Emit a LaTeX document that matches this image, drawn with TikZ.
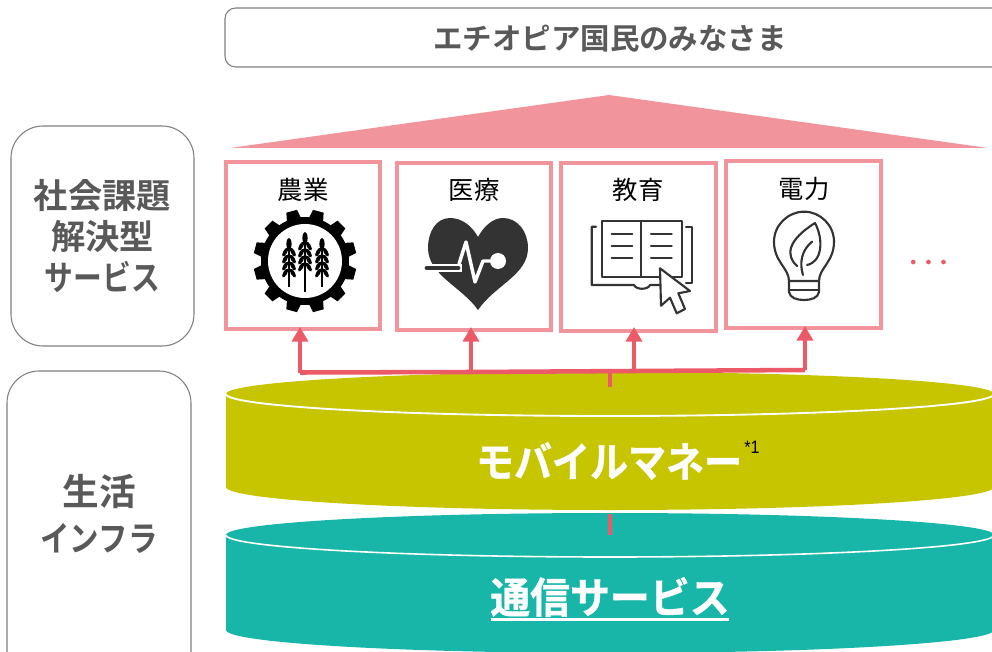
\documentclass[tikz,border=0pt]{standalone}
\usepackage{fontspec}
\setmainfont{Noto Sans CJK JP}
\newfontfamily\jpb{Noto Sans CJK JP Bold}
\newfontfamily\jpbb[FakeBold=1]{Noto Sans CJK JP Bold}
\newfontfamily\jpr{Noto Sans CJK JP}
\newfontfamily\lat{Liberation Sans}
\newfontfamily\djv{DejaVu Sans}
\definecolor{pinkb}{HTML}{F1949C}
\definecolor{arrowc}{HTML}{EC5A68}
\definecolor{olive}{HTML}{C7C400}
\definecolor{tealc}{HTML}{17B6A8}
\definecolor{graytx}{HTML}{595959}
\definecolor{grayln}{HTML}{7F7F7F}
\definecolor{icon}{HTML}{333333}
\newcommand\hs[2]{\scalebox{#1}[1]{#2}}
\newcommand\wheat[3]{%
  \draw[black,line width=1.1pt] (#1,#2+6) -- (#1,#3);
  \fill[black] (#1,#2+6) ellipse [x radius=2.6,y radius=6];
  \foreach \k in {0,1,2,3} {
    \fill[black,rotate around={-30:(#1-3.8,#2+14+\k*7)}] (#1-3.8,#2+14+\k*7) ellipse [x radius=2,y radius=5];
    \fill[black,rotate around={30:(#1+3.8,#2+14+\k*7)}] (#1+3.8,#2+14+\k*7) ellipse [x radius=2,y radius=5];
  }}
\tikzset{
  svcbox/.style={draw=pinkb,line width=3pt,fill=white,outer sep=0pt,inner sep=0pt,anchor=north west},
  sidebox/.style={draw=grayln,line width=0.8pt,fill=white,rounded corners=24pt},
  sidetxt/.style={text=graytx,font=\jpb\fontsize{25.7}{31}\selectfont,align=center},
  svctxt/.style={text=black,font=\jpr\fontsize{19}{22}\selectfont},
  bigtxt/.style={text=white,font=\jpb\selectfont},
  conn/.style={draw=arrowc,line width=3.4pt},
  up/.style={conn,-{Triangle[length=11pt,width=12pt]}},
  stem/.style={draw=arrowc,line width=3pt},
  iconln/.style={draw=icon,line width=1.6pt,line cap=round,line join=round},
}
\usetikzlibrary{arrows.meta}
\begin{document}
\begin{tikzpicture}[x=0.75pt,y=-0.75pt]
\useasboundingbox (0,0) rectangle (992,652);
\clip (0,0) rectangle (992,652);
% top banner
\draw[draw=grayln,line width=0.8pt,fill=white,rounded corners=8pt] (225,8) rectangle (1010,67);
\node[text=graytx,font=\jpb\fontsize{22.1}{26}\selectfont] (people) at (610,38.5) {エチオピア国民のみなさま};
% roof
\fill[pinkb] (230,148) -- (609,95) -- (988,148) -- cycle;
% side boxes
\draw[sidebox] (11,126) rectangle (194,346);
\draw[sidebox] (7,371) rectangle (191,690);
\node[sidetxt] (social) at (102.5,236) {社会課題\\解決型\\\hs{0.84}{サービス}};
\node[sidetxt,font=\jpb\fontsize{27.5}{34}\selectfont] (life) at (99,514) {生活\\\hs{0.85}{\fontsize{26}{34}\selectfont インフラ}};
% olive cylinder
\fill[olive] (226,394) -- (226,487) arc [start angle=180,end angle=0,x radius=384,y radius=23] -- (994,394) arc [start angle=0,end angle=-180,x radius=384,y radius=22] -- cycle;
\draw[white,line width=1.4pt] (226,394) arc [start angle=180,end angle=0,x radius=384,y radius=22];
% teal cylinder
\fill[tealc] (226,535) -- (226,630) arc [start angle=180,end angle=0,x radius=384,y radius=23] -- (994,535) arc [start angle=0,end angle=-180,x radius=384,y radius=22] -- cycle;
\draw[white,line width=1.2pt] (226,535) arc [start angle=180,end angle=0,x radius=384,y radius=22];
\node[bigtxt,font=\jpbb\fontsize{31}{34}\selectfont] (money) at (609,461) {\hs{0.92}{モバイルマネー}};
\node[text=black,font=\lat\fontsize{13.5}{15}\selectfont] (note) at (752,447) {\hs{0.9}{*1}};
\node[bigtxt,font=\jpbb\fontsize{31.5}{36}\selectfont,inner sep=0pt] (comm) at (610,597) {\hs{0.95}{通信サービス}};
\draw[white,line width=2pt] (491,619.5) -- (729,619.5);
% service boxes
\node[svcbox,minimum width=115.5pt,minimum height=125pt] (agri) at (226,162) {};
\node[svcbox,minimum width=115.5pt,minimum height=125pt] (med) at (397,163) {};
\node[svcbox,minimum width=116pt,minimum height=126pt] (edu) at (561,163) {};
\node[svcbox,minimum width=116pt,minimum height=125pt] (power) at (726,161) {};
\node[svctxt] (agrit) at (303,190) {農業};
\node[svctxt] (medt) at (474,190) {医療};
\node[svctxt] (edut) at (638,190) {教育};
\node[svctxt] (powert) at (804,189) {電力};
% connectors
\coordinate (b1) at (300,372.5);
\coordinate (b2) at (471,372);
\coordinate (b3) at (634,371);
\coordinate (b4) at (805,370);
\coordinate (s1) at (610,371);
\coordinate (s2) at (610,387);
\coordinate (s3) at (610,514);
\coordinate (s4) at (610,535);
\draw[conn] (b1) -- (b2) -- (b3) -- (b4);
\draw[up] (b1) -- (300,327);
\draw[up] (b2) -- (471,327);
\draw[up] (b3) -- (634,327);
\draw[up] (b4) -- (805,326);
\draw[stem] (s1) -- (s2);
\draw[stem] (s3) -- (s4);
% gear icon
\fill[black] (305,261) circle [radius=44];
\foreach \a in {0,30,...,330} {
  \fill[black,rotate around={\a+15:(305,261)}] (297,222) -- (299.5,209.5) -- (310.5,209.5) -- (313,222) -- cycle;
}
\fill[white] (305,261) circle [radius=37];
\wheat{305}{232}{292}
\wheat{289}{238}{287}
\wheat{322}{238}{287}
% heart icon
\fill[icon] (478,237) .. controls (484,226) and (493,218) .. (503,218) .. controls (518,218) and (528,232) .. (528,248) .. controls (528,275) and (495,285) .. (478,310) .. controls (462,287) and (428,275) .. (428,248) .. controls (428,232) and (436,218) .. (450,218) .. controls (462,218) and (472,226) .. (478,237) -- cycle;
\draw[white,line width=6pt] (426,268) -- (462,268);
\draw[white,line width=2.6pt,line join=round] (459,264) -- (466,242) -- (475,282) -- (483,261) -- (498,261);
\fill[white] (498,261) circle [radius=8];
\draw[icon,line width=3.6pt,line cap=round] (427,268) -- (458,268);
% book icon
\draw[iconln] (601.7,220.7) -- (641,220.7) -- (641,276.7) -- (601.7,276.7) -- cycle;
\draw[iconln] (641,220.7) -- (681.7,220.7) -- (681.7,276.7) -- (641,276.7);
\draw[iconln] (596,226.7) -- (591.7,226.7) -- (591.7,285) -- (634,285) .. controls (636,290) and (648,290) .. (650,285) -- (660,285);
\draw[iconln] (686,226.7) -- (691.7,226.7) -- (691.7,283) -- (686,283);
\foreach \yy in {234.3,246.3,258.3} {
  \draw[iconln] (611.7,\yy) -- (632.3,\yy);
  \draw[iconln] (651,\yy) -- (671.7,\yy);
}
\draw[iconln,fill=white] (660,268.3) -- (690,291) -- (678.3,293.3) -- (685,309) -- (676.7,313.3) -- (670,297.7) -- (661,305.7) -- cycle;
% bulb icon
\draw[iconln] (789,281) .. controls (789,268) and (774,262) .. (774,241.7) .. controls (774,225) and (788,211.7) .. (804.3,211.7) .. controls (820,211.7) and (834,225) .. (834,241.7) .. controls (834,262) and (819,268) .. (819,281) -- cycle;
\draw[iconln] (789,281) -- (789,292) .. controls (790,298) and (797,300) .. (804,300) .. controls (811,300) and (818,298) .. (819,292) -- (819,281);
\draw[iconln] (790,290) -- (818,290);
\draw[iconln] (797,266) .. controls (785,255) and (788,240) .. (815,223) .. controls (824,240) and (822,262) .. (807,265);
\draw[iconln] (812,241.7) .. controls (802,250) and (799,262) .. (803,275);
% more
\node[text=arrowc,font=\djv\fontsize{12}{13}\selectfont] (more) at (928.5,264) {•\kern4.3pt•\kern4.3pt•};
\end{tikzpicture}
\end{document}
